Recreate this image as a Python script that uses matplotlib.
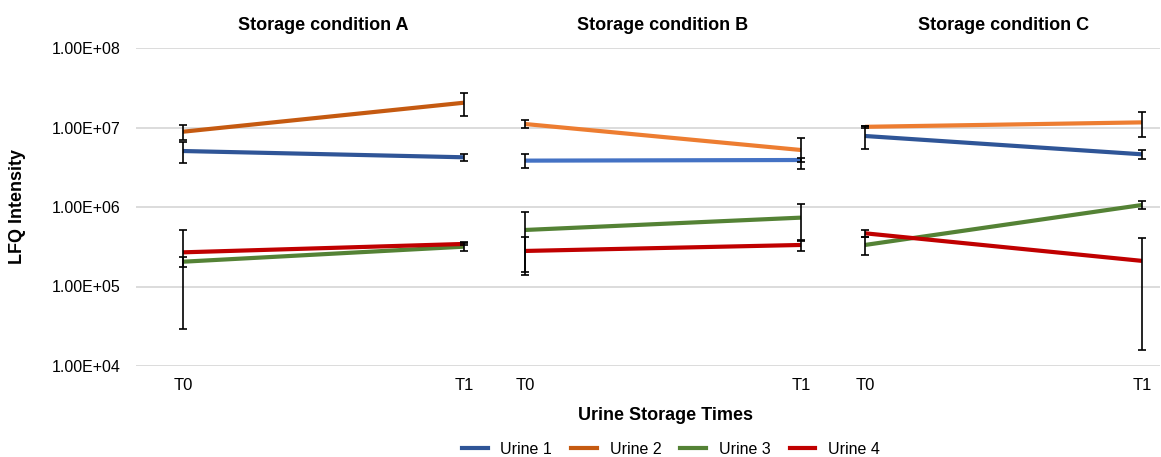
import matplotlib.pyplot as plt
import numpy as np

plt.rcParams["font.family"] = ["Liberation Sans", "DejaVu Sans"]

# data (symmetric linear error bars)
conditions = ["Storage condition A", "Storage condition B", "Storage condition C"]
times = ["T0", "T1"]
series = ["Urine 1", "Urine 2", "Urine 3", "Urine 4"]

vals_a = [[5.06e6, 4.22e6], [8.85e6, 2.05e7], [2.05e5, 3.17e5], [2.69e5, 3.43e5]]
errs_a = [[1.45e6, 0.48e6], [1.85e6, 0.65e7], [0.27e5, 0.35e5], [2.40e5, 0.15e5]]
vals_b = [[3.83e6, 3.90e6], [1.107e7, 5.21e6], [5.14e5, 7.35e5], [2.80e5, 3.33e5]]
errs_b = [[0.75e6, 0.20e6], [1.30e6, 2.24e6], [3.60e5, 3.65e5], [1.40e5, 0.55e5]]
vals_c = [[7.82e6, 4.60e6], [1.02e7, 1.16e7], [3.33e5, 1.06e6], [4.67e5, 2.10e5]]
errs_c = [[2.50e6, 0.60e6], [0.30e6, 4.10e6], [0.85e5, 1.20e5], [0.50e5, 1.94e5]]

colors_a = ["#2F5597", "#C55A11", "#548235", "#C00000"]
colors_b = ["#4472C4", "#ED7D31", "#548235", "#C00000"]
colors_c = ["#2F5597", "#ED7D31", "#548235", "#C00000"]

panels = [(vals_a, errs_a, colors_a), (vals_b, errs_b, colors_b), (vals_c, errs_c, colors_c)]

# axes placement in pixels: left, right, x-limits
W, H = 1161, 457
boxes = [(136, 494, (-0.167, 1.107)), (494, 832, (-0.112, 1.112)), (832, 1160, (-0.119, 1.065))]
y_top, y_bot = 48, 366

fig = plt.figure(figsize=(W / 100, H / 100), dpi=100)
x = np.arange(len(times))
axes = []
for i, ((vals, errs, cols), (l, r, xl)) in enumerate(zip(panels, boxes)):
    ax = fig.add_axes([l / W, 1 - y_bot / H, (r - l) / W, (y_bot - y_top) / H])
    for name, v, e, c in zip(series, vals, errs, cols):
        ax.plot(x, v, color=c, lw=3, solid_capstyle="butt", zorder=3)
        ax.errorbar(x, v, yerr=e, fmt="none", ecolor="black", elinewidth=1.2,
                    capsize=3, capthick=1.2, zorder=4)
    ax.set_yscale("log")
    ax.set_ylim(1e4, 1e8)
    ax.set_xlim(*xl)
    ax.set_xticks(x)
    ax.set_xticklabels(times, fontsize=12)
    ax.set_yticks([1e4, 1e5, 1e6, 1e7, 1e8])
    ax.yaxis.set_minor_locator(plt.NullLocator())
    if i == 0:
        ax.set_yticklabels(["1.00E+04", "1.00E+05", "1.00E+06", "1.00E+07", "1.00E+08"],
                           fontsize=11.5)
    else:
        ax.set_yticklabels([])
    ax.tick_params(axis="x", length=0, pad=9)
    ax.tick_params(axis="y", length=0, pad=11)
    ax.grid(axis="y", color="#D9D9D9", lw=1.3)
    ax.set_axisbelow(True)
    for s in ax.spines.values():
        s.set_visible(False)
    ax.text(0.5, 1.0e8 * 10 ** 0.28, conditions[i], ha="center", va="center",
            fontsize=13, fontweight="bold")
    axes.append(ax)

fig.text(18 / W, 1 - 207 / H, "LFQ Intensity", rotation=90, ha="center", va="center",
         fontsize=13, fontweight="bold")
fig.text(666 / W, 1 - 415 / H, "Urine Storage Times", ha="center", va="center",
         fontsize=13, fontweight="bold")

handles = [plt.Line2D([], [], color=c, lw=3) for c in colors_a]
fig.legend(handles, series, loc="center", bbox_to_anchor=(671 / W, 1 - 449 / H),
           ncol=4, frameon=False, fontsize=11.5, handlelength=1.6, columnspacing=1.2,
           handletextpad=0.8)

fig.savefig("out.png", dpi=100)
